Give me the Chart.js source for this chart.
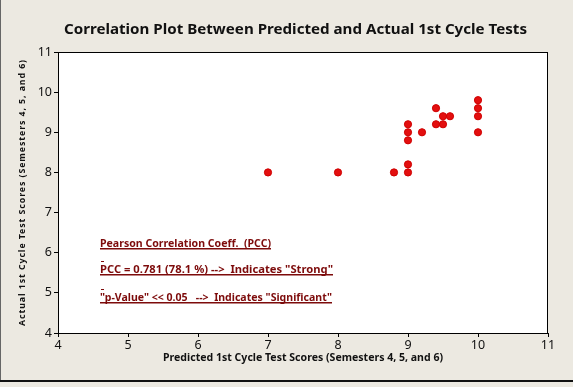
<!DOCTYPE html>
<html>
<head>
<meta charset="utf-8">
<script src="https://cdn.jsdelivr.net/npm/chart.js@4/dist/chart.umd.min.js"></script>
<style>
  html, body { margin: 0; padding: 0; background: #ece9e1; }
  canvas { display: block; }
</style>
</head>
<body>
<canvas id="corrChart" width="573" height="387"></canvas>
<script>
// data
const predicted = [7, 8, 8.8, 9, 9, 9, 9, 9, 9.2, 9.4, 9.4, 9.5, 9.5, 9.6, 10, 10, 10, 10];
const actual    = [8, 8, 8,   8, 8.2, 8.8, 9, 9.2, 9, 9.2, 9.6, 9.2, 9.4, 9.4, 9.8, 9.6, 9.4, 9];
const xTicks = [4, 5, 6, 7, 8, 9, 10, 11];
const yTicks = [4, 5, 6, 7, 8, 9, 10, 11];

const chartTitle = 'Correlation Plot Between Predicted and Actual 1st Cycle Tests';
const xTitle = 'Predicted 1st Cycle Test Scores (Semesters 4, 5, and 6)';
const yTitle = 'Actual 1st Cycle Test Scores (Semesters 4, 5, and 6)';

const noteLines = [
  'Pearson Correlation Coeff.  (PCC)',
  'PCC = 0.781 (78.1 %) -->  Indicates "Strong"',
  '"p-Value" << 0.05   -->  Indicates "Significant"'
];
// where the notes sit (baselines), in data units
const noteX = 4.6;
const noteY = [6.14, 5.49, 4.8];
const dashY = [5.79, 5.1];

const FONT = '"Noto Sans", Tahoma, Verdana, sans-serif';
const noteWidths = [171, 233, 232];

const points = predicted.map((x, i) => ({ x: x, y: actual[i] }));

// draw text squeezed horizontally to a target width
function fitText(ctx, text, x, y, font, width, align, baseline) {
  ctx.save();
  ctx.font = font;
  ctx.textAlign = align || 'center';
  ctx.textBaseline = baseline || 'middle';
  const w = ctx.measureText(text).width;
  ctx.translate(x, y);
  ctx.scale(width / w, 1);
  ctx.fillText(text, 0, 0);
  ctx.restore();
}

const decor = {
  id: 'decor',
  beforeDraw(chart) {
    const ctx = chart.ctx;
    const a = chart.chartArea;
    ctx.save();
    ctx.fillStyle = '#ece9e1';
    ctx.fillRect(0, 0, chart.width, chart.height);
    ctx.fillStyle = '#ffffff';
    ctx.fillRect(a.left, a.top, a.right - a.left, a.bottom - a.top);
    // window frame
    ctx.fillStyle = '#666666';
    ctx.fillRect(0, 0, 1, 381);
    ctx.fillStyle = '#111111';
    ctx.fillRect(0, 380, chart.width, 2);
    ctx.restore();
  },
  beforeDatasetsDraw(chart) {
    const ctx = chart.ctx;
    const a = chart.chartArea;
    ctx.save();
    ctx.strokeStyle = '#000';
    ctx.lineWidth = 1;
    ctx.strokeRect(a.left + 0.5, a.top + 0.5, a.right - a.left - 1, a.bottom - a.top);
    ctx.restore();
  },
  afterDraw(chart) {
    const ctx = chart.ctx;
    const a = chart.chartArea;
    const xs = chart.scales.x, ys = chart.scales.y;
    ctx.save();
    ctx.fillStyle = '#111';
    fitText(ctx, chartTitle, 295.5, 30, 'bold 15px ' + FONT, 463);
    fitText(ctx, xTitle, (a.left + a.right) / 2, 358, 'bold 10.5px ' + FONT, 280);

    ctx.save();
    ctx.translate(22, (a.top + a.bottom) / 2);
    ctx.rotate(-Math.PI / 2);
    ctx.letterSpacing = '1px';
    fitText(ctx, yTitle, 0, 0, 'bold 9.5px ' + FONT, 267);
    ctx.restore();

    // notes
    ctx.fillStyle = '#7d0b0b';
    const nx = xs.getPixelForValue(noteX);
    noteLines.forEach((t, i) => {
      const ny = Math.round(ys.getPixelForValue(noteY[i]));
      fitText(ctx, t, nx, ny, 'bold 10px ' + FONT, noteWidths[i], 'left', 'alphabetic');
      ctx.fillRect(nx, ny + 1, noteWidths[i], 1.5);
    });
    dashY.forEach(v => {
      const ny = Math.round(ys.getPixelForValue(v));
      ctx.fillRect(nx + 1, ny, 3, 1);
    });
    ctx.restore();
  }
};

const ctx = document.getElementById('corrChart').getContext('2d');
new Chart(ctx, {
  type: 'scatter',
  data: {
    datasets: [{
      data: points,
      backgroundColor: '#e30f0f',
      borderColor: '#d00000',
      borderWidth: 1,
      pointRadius: 3.6
    }]
  },
  options: {
    responsive: false,
    animation: false,
    layout: { padding: { top: 52, right: 25, left: 0, bottom: 0 } },
    plugins: { legend: { display: false }, tooltip: { enabled: false } },
    scales: {
      x: {
        type: 'linear',
        min: 4, max: 11,
        afterBuildTicks: s => { s.ticks = xTicks.map(v => ({ value: v })); },
        afterFit: s => { s.height = 54; },
        grid: { drawOnChartArea: false, tickLength: 4, color: '#000' },
        border: { color: '#000' },
        ticks: { color: '#111', padding: 1, font: { family: FONT, size: 12.5 } }
      },
      y: {
        type: 'linear',
        min: 4, max: 11,
        afterBuildTicks: s => { s.ticks = yTicks.map(v => ({ value: v })); },
        afterFit: s => { s.width = 58; },
        grid: { drawOnChartArea: false, tickLength: 4, color: '#000' },
        border: { color: '#000' },
        ticks: { color: '#111', padding: 2, font: { family: FONT, size: 12.5 } }
      }
    }
  },
  plugins: [decor]
});
</script>
</body>
</html>
